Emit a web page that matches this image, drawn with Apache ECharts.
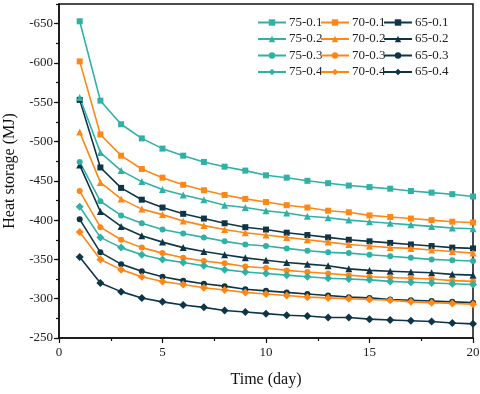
<!DOCTYPE html>
<html>
<head>
<meta charset="utf-8">
<script src="https://cdn.jsdelivr.net/npm/echarts@6/dist/echarts.min.js"></script>
<style>
  html, body { margin: 0; padding: 0; background: #fff; }
  #chart { width: 480px; height: 394px; }
</style>
</head>
<body>
<div id="chart"></div>
<script>
// days on the x axis
const days = [1, 2, 3, 4, 5, 6, 7, 8, 9, 10, 11, 12, 13, 14, 15, 16, 17, 18, 19, 20]
const yTicks = [-650, -600, -550, -500, -450, -400, -350, -300, -250]

// heat storage (MJ)
const s75_01 = [-653, -552, -522, -504, -491, -482, -474, -468, -463, -457, -454, -450, -447, -444, -442, -440, -437, -435, -433, -430]
const s70_01 = [-602, -509, -482, -465, -454, -445, -438, -432, -427, -423, -419, -416, -412, -410, -406, -404, -402, -400, -398, -397]
const s65_01 = [-553, -467, -441, -426, -416, -408, -402, -396, -391, -388, -384, -381, -378, -375, -373, -371, -369, -367, -365, -364]
const s75_02 = [-556, -486, -463, -449, -439, -432, -426, -419, -416, -412, -409, -405, -403, -400, -398, -396, -394, -392, -390, -389]
const s70_02 = [-512, -448, -427, -414, -407, -399, -393, -388, -384, -381, -378, -375, -372, -369, -367, -365, -364, -362, -360, -358]
const s65_02 = [-470, -411, -392, -380, -372, -365, -360, -356, -352, -349, -346, -344, -342, -338, -336, -335, -334, -333, -331, -330]
const s75_03 = [-474, -424, -406, -396, -388, -383, -378, -373, -369, -367, -364, -361, -359, -358, -356, -354, -352, -350, -349, -348]
const s70_03 = [-437, -391, -375, -365, -358, -352, -348, -345, -341, -339, -336, -334, -332, -330, -328, -327, -326, -325, -323, -322]
const s65_03 = [-401, -359, -344, -335, -328, -323, -319, -316, -312, -310, -308, -306, -304, -302, -301, -299, -298, -297, -296, -295]
const s75_04 = [-417, -378, -365, -356, -350, -346, -342, -337, -334, -332, -330, -328, -326, -325, -324, -322, -321, -320, -319, -318]
const s70_04 = [-385, -350, -337, -328, -322, -318, -314, -311, -308, -306, -304, -302, -301, -300, -299, -298, -296, -295, -294, -293]
const s65_04 = [-353, -320, -309, -301, -296, -292, -289, -285, -283, -281, -279, -278, -276, -276, -274, -273, -272, -271, -269, -268]

const TEAL = '#2fb1a5'
const ORANGE = '#ff8716'
const NAVY = '#0e3547'
const FONT = '"Liberation Serif", "DejaVu Serif", serif'

const mk = (name, values, color, symbol, size) => ({
    name,
    type: 'line',
    data: values.map((v, i) => [days[i], v]),
    symbol,
    symbolSize: size,
    lineStyle: { color, width: 1.6 },
    itemStyle: { color },
    emphasis: { disabled: true }
})

const series = [
    mk('75-0.1', s75_01, TEAL, 'rect', 6),
    mk('70-0.1', s70_01, ORANGE, 'rect', 6),
    mk('65-0.1', s65_01, NAVY, 'rect', 6),
    mk('75-0.2', s75_02, TEAL, 'triangle', 7),
    mk('70-0.2', s70_02, ORANGE, 'triangle', 7),
    mk('65-0.2', s65_02, NAVY, 'triangle', 7),
    mk('75-0.3', s75_03, TEAL, 'circle', 6),
    mk('70-0.3', s70_03, ORANGE, 'circle', 6),
    mk('65-0.3', s65_03, NAVY, 'circle', 6),
    mk('75-0.4', s75_04, TEAL, 'diamond', 8),
    mk('70-0.4', s70_04, ORANGE, 'diamond', 8),
    mk('65-0.4', s65_04, NAVY, 'diamond', 8)
]

const legendCol = (left, names) => ({
    orient: 'vertical',
    left,
    top: 16,
    padding: 0,
    itemWidth: 28,
    itemHeight: 8,
    itemGap: 3.5,
    data: names,
    textStyle: { fontFamily: FONT, fontSize: 13, lineHeight: 12, color: '#222', padding: [0, 0, 0, -2] }
})

const chart = echarts.init(document.getElementById('chart'))
chart.setOption({
    animation: false,
    grid: { left: 59, right: 7, top: 4, bottom: 56, outerBoundsMode: 'none', show: true, borderColor: '#111', borderWidth: 1.5 },
    legend: [
        legendCol(257, ['75-0.1', '75-0.2', '75-0.3', '75-0.4']),
        legendCol(320, ['70-0.1', '70-0.2', '70-0.3', '70-0.4']),
        legendCol(383, ['65-0.1', '65-0.2', '65-0.3', '65-0.4'])
    ],
    xAxis: {
        type: 'value',
        min: 0,
        max: 20,
        interval: 5,
        name: 'Time (day)',
        nameLocation: 'middle',
        nameGap: 34,
        nameTextStyle: { fontFamily: FONT, fontSize: 16, color: '#111' },
        axisLine: { lineStyle: { color: '#111', width: 1.5 } },
        axisTick: { length: 5, lineStyle: { color: '#111', width: 1.2 } },
        minorTick: { show: true, splitNumber: 2, length: 3, lineStyle: { color: '#111', width: 1.2 } },
        splitLine: { show: false },
        axisLabel: { fontFamily: FONT, fontSize: 13, color: '#222', margin: 8 }
    },
    yAxis: [
        {
            type: 'value',
            inverse: true,
            min: -675,
            max: -250,
            interval: 25,
            name: 'Heat storage (MJ)',
            nameLocation: 'middle',
            nameGap: 37,
            nameTextStyle: { fontFamily: FONT, fontSize: 16, color: '#111' },
            axisLine: { show: true, lineStyle: { color: '#111', width: 1.5 } },
            axisTick: { length: 3, lineStyle: { color: '#111', width: 1.2 } },
            splitLine: { show: false },
            axisLabel: { customValues: yTicks, fontFamily: FONT, fontSize: 13, color: '#222', margin: 6 }
        },
        {
            // overlay axis that draws the longer major ticks
            type: 'value',
            position: 'left',
            inverse: true,
            min: -675,
            max: -250,
            axisLine: { show: false },
            axisTick: { show: true, customValues: yTicks, length: 5, lineStyle: { color: '#111', width: 1.2 } },
            axisLabel: { show: false },
            splitLine: { show: false }
        }
    ],
    series
})
</script>
</body>
</html>
